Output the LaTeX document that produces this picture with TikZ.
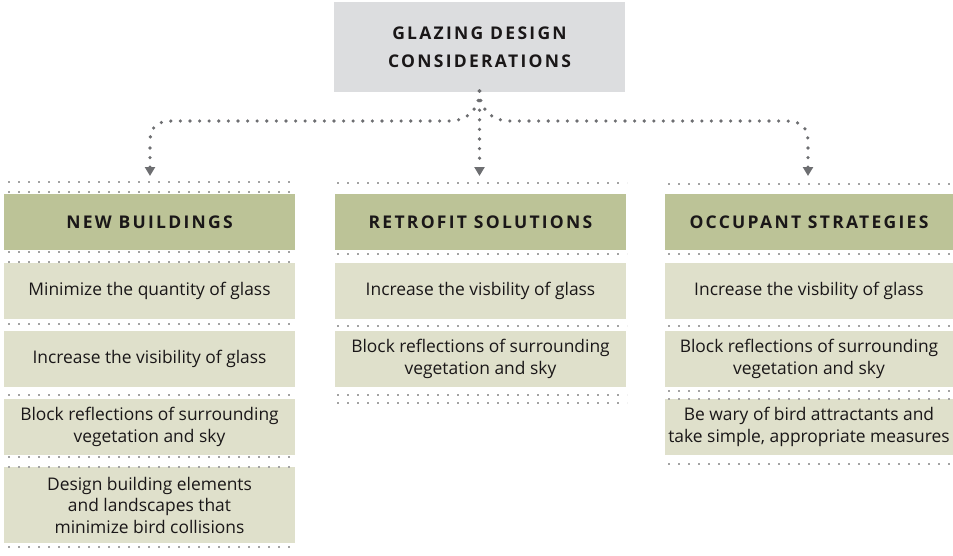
\documentclass[tikz,border=0pt]{standalone}
\usepackage{fontspec}
\setmainfont{Open Sans}
\usetikzlibrary{arrows.meta}
\definecolor{topgray}{HTML}{DCDDDF}
\definecolor{hdrgreen}{HTML}{BCC397}
\definecolor{itemgreen}{HTML}{DFE0CB}
\definecolor{conn}{HTML}{6D6E71}
\definecolor{sepdot}{HTML}{A3A3A3}
\definecolor{txt}{HTML}{1A1718}
\newcommand{\hdrfont}{\fontsize{17.5}{28}\selectfont\bfseries\addfontfeature{LetterSpace=13}}
\newcommand{\itemfont}{\fontsize{17.4}{21.5}\selectfont}
\begin{document}
\begin{tikzpicture}[x=1pt,y=-1pt,
  topbox/.style={fill=topgray,text=txt,minimum width=291pt,minimum height=90pt,inner sep=0pt,align=center,font=\hdrfont},
  hdrbox/.style={fill=hdrgreen,text=txt,minimum height=56pt,inner sep=0pt,align=center,font=\hdrfont},
  itembox/.style={fill=itemgreen,text=txt,minimum height=56pt,inner sep=0pt,align=center,font=\itemfont},
  sepline/.style={draw=sepdot,line width=2pt,dash pattern=on 2pt off 8pt},
  connline/.style={draw=conn,line width=3.6pt,line cap=round,dash pattern=on 0pt off 9.6pt,
     -{Triangle[width=10pt,length=9pt,line cap=butt]}},
  plainconn/.style={draw=conn,line width=3.6pt,line cap=round,dash pattern=on 0pt off 9.6pt}]
\useasboundingbox (0,0) rectangle (953,555);
% top
\node[topbox] (top) at (479.5,47) {GLAZING DESIGN\\CONSIDERATIONS};
% column 1
\node[hdrbox,minimum width=291pt] (h1) at (149.5,222) {NEW BUILDINGS};
\node[itembox,minimum width=291pt] (a1) at (149.5,291) {Minimize the quantity of glass};
\node[itembox,minimum width=291pt] (a2) at (149.5,359) {Increase the visibility of glass};
\node[itembox,minimum width=291pt] (a3) at (149.5,427) {Block reflections of surrounding\\vegetation and sky};
\node[itembox,minimum width=291pt,minimum height=76pt] (a4) at (149.5,505) {Design building elements\\and landscapes that\\minimize bird collisions};
% column 2
\node[hdrbox,minimum width=291pt] (h2) at (480.5,222) {RETROFIT SOLUTIONS};
\node[itembox,minimum width=291pt] (b1) at (480.5,291) {Increase the visbility of glass};
\node[itembox,minimum width=291pt] (b2) at (480.5,359) {Block reflections of surrounding\\vegetation and sky};
% column 3
\node[hdrbox,minimum width=288pt] (h3) at (809,222) {OCCUPANT STRATEGIES};
\node[itembox,minimum width=288pt] (c1) at (809,291) {Increase the visbility of glass};
\node[itembox,minimum width=288pt] (c2) at (809,359) {Block reflections of surrounding\\vegetation and sky};
\node[itembox,minimum width=288pt] (c3) at (809,427) {Be wary of bird attractants and\\take simple, appropriate measures};
% separator dotted lines
\foreach \yy in {182,192,252,262,324,395,457,467,547}
  \draw[sepline] (8,\yy) -- (295,\yy);
\foreach \yy in {183,254,326,395,403}
  \draw[sepline] (337,\yy) -- (627,\yy);
\foreach \yy in {184,254,326,391,399,464}
  \draw[sepline] (668,\yy) -- (953,\yy);
% connectors
\coordinate (fork) at (479.5,91);
\coordinate (t1) at (150,176);
\coordinate (t2) at (479.5,176);
\coordinate (t3) at (808,176);
\draw[connline] (fork) -- (t2);
\draw[plainconn] (fork) .. controls (479.5,110) and (466,121) .. (450,121) -- (172,121)
   .. controls (156,121) and (150,128) .. (150,142);
\draw[connline] (150,148) -- (t1);
\draw[plainconn] (fork) .. controls (479.5,110) and (493,121) .. (509,121) -- (786,121)
   .. controls (802,121) and (808,128) .. (808,142);
\draw[connline] (808,148) -- (t3);
\end{tikzpicture}
\end{document}
